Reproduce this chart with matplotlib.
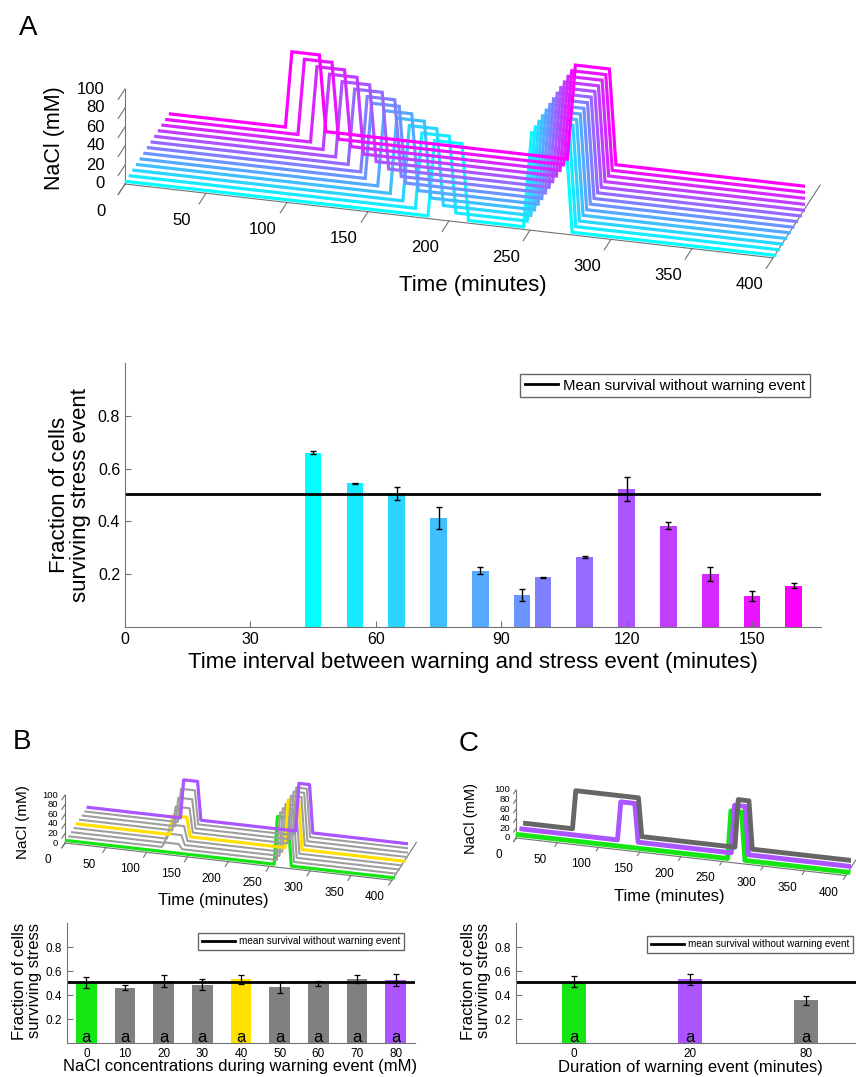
import numpy as np
import matplotlib
matplotlib.use('Agg')
import matplotlib.pyplot as plt
from matplotlib import cm
from matplotlib.lines import Line2D
from mpl_toolkits.mplot3d import proj3d

plt.rcParams['font.family'] = ['Liberation Sans', 'DejaVu Sans']

# ---------------- data ----------------
intervals_A = [45, 55, 65, 75, 85, 95, 100, 110, 120, 130, 140, 150, 160]
survival_A = [0.660, 0.544, 0.507, 0.414, 0.213, 0.121, 0.188, 0.266, 0.523, 0.384, 0.201, 0.117, 0.156]
error_A = [0.005, 0.003, 0.025, 0.042, 0.014, 0.022, 0.003, 0.004, 0.047, 0.013, 0.027, 0.020, 0.010]
mean_no_warning = 0.505

# warning pulse end (top) times for each trace in panel A (minutes)
warn_top_end_A = [207, 197, 187, 177, 167, 157, 152, 142, 132, 122, 112, 102, 92]
warn_top_len_A = 17
ramp = 4
warn_level = 80
stress_A = [245, 250, 271, 275]
stress_level = 100

time_ticks = [0, 50, 100, 150, 200, 250, 300, 350, 400]
nacl_ticks = [0, 20, 40, 60, 80, 100]

conc_B = [0, 10, 20, 30, 40, 50, 60, 70, 80]
survival_B = [0.507, 0.460, 0.520, 0.487, 0.530, 0.465, 0.495, 0.535, 0.527]
error_B = [0.047, 0.020, 0.050, 0.045, 0.040, 0.045, 0.020, 0.035, 0.050]
warn_B = [113, 117, 134, 138]
stress_BC = [254, 258, 271, 275]

dur_C = [0, 20, 80]
survival_C = [0.510, 0.530, 0.355]
error_C = [0.047, 0.048, 0.038]
warn_C = {0: None, 20: [116, 120, 137, 141], 80: [57, 61, 137, 141]}

# ---------------- style ----------------
GREEN = (0.08, 0.90, 0.08)
YELLOW = (1.0, 0.88, 0.0)
PURPLE = cm.cool(8 / 12)
GREY_BAR = (0.50, 0.50, 0.50)
GREY_3D_B = (0.62, 0.62, 0.62)
GREY_3D_C = (0.40, 0.40, 0.40)
AX_GREY = '0.45'
ELEV, AZIM = 24.8, -74.8

W, H = 856, 1077
fig = plt.figure(figsize=(W / 100, H / 100), dpi=100)


def profile(pulses):
    t, z = [0], [0]
    for (a, b, c, d), lev in pulses:
        t += [a, b, c, d]
        z += [0, lev, lev, 0]
    t.append(400)
    z.append(0)
    return np.array(t, float), np.array(z, float)


def style3d(ax, ylim, box, tick_len):
    ax.view_init(elev=ELEV, azim=AZIM)
    ax.set_box_aspect(box)
    ax.set_xlim(0, 400)
    ax.set_ylim(*ylim)
    ax.set_zlim(0, 100)
    ax.set_facecolor((1, 1, 1, 0))
    ax.grid(False)
    for axis in (ax.xaxis, ax.yaxis, ax.zaxis):
        axis.set_pane_color((1, 1, 1, 0))
        axis.pane.set_edgecolor((1, 1, 1, 0))
        axis.line.set_color(AX_GREY)
        axis.line.set_linewidth(0.8)
        # ticks point toward the viewer (front), as in the original figure
        axis._axinfo['tick']['inward_factor'] = tick_len
        axis._axinfo['tick']['outward_factor'] = 0.0
    ax.set_xticks(time_ticks)
    ax.set_yticks([])
    ax.set_zticks(nacl_ticks)
    ax.tick_params(labelsize=8, color=AX_GREY, width=0.8)


def place_zaxis_left(ax):
    best, best_x = None, None
    for pos in ('lower', 'upper', 'default'):
        try:
            ax.zaxis.set_ticks_position(pos)
        except Exception:
            continue
        fig.canvas.draw()
        labs = [l for l in ax.zaxis.get_ticklabels() if l.get_text()]
        if not labs:
            continue
        x = np.mean([l.get_window_extent().x0 for l in labs])
        if best_x is None or x < best_x:
            best, best_x = pos, x
    if best is not None:
        ax.zaxis.set_ticks_position(best)


def disp_point(ax, x, y, z):
    M = ax.get_proj()
    xs, ys, _ = proj3d.proj_transform(np.array([x], float), np.array([y], float), np.array([z], float), M)
    return ax.transData.transform((xs[0], ys[0]))


def fit3d(ax, ylim, P0, P1, P2, P3):
    t0 = np.array([P0[0], H - P0[1]])
    t1 = np.array([P1[0], H - P1[1]])
    t2 = np.array([P2[0], H - P2[1]])
    t3 = np.array([P3[0], H - P3[1]])
    for it in range(4):
        fig.canvas.draw()
        d0 = disp_point(ax, 0, ylim[0], 0)
        d1 = disp_point(ax, 400, ylim[0], 0)
        d2 = disp_point(ax, 0, ylim[0], 100)
        d3 = disp_point(ax, 400, ylim[1], 0)
        if it < 3:
            cur = np.array(ax.get_box_aspect())
            rx = np.linalg.norm(t1 - t0) / np.linalg.norm(d1 - d0)
            rz = np.linalg.norm(t2 - t0) / np.linalg.norm(d2 - d0)
            ry = np.linalg.norm(t3 - t1) / np.linalg.norm(d3 - d1)
            ax.set_box_aspect(tuple(cur * np.array([1.0, ry / rx, rz / rx])))
            fig.canvas.draw()
            d0 = disp_point(ax, 0, ylim[0], 0)
            d1 = disp_point(ax, 400, ylim[0], 0)
        bb = ax.get_position()
        S0 = bb.width * W
        C0 = np.array([(bb.x0 + bb.width / 2) * W, (bb.y0 + bb.height / 2) * H])
        q0 = (d0 - C0) / S0
        S = S0 * np.linalg.norm(t1 - t0) / np.linalg.norm(d1 - d0)
        C = t0 - S * q0
        ax.set_position([(C[0] - S / 2) / W, (C[1] - S / 2) / H, S / W, S / H])


def label3d(ax, ylim, xoff, zoff, fs_x, fs_z):
    """Tick labels placed next to the projected tick positions (offsets in pixels, y down)."""
    fig.canvas.draw()
    for v in time_ticks:
        p = disp_point(ax, v, ylim[0], 0)
        fig.text((p[0] + xoff[0]) / W, (p[1] - xoff[1]) / H, str(v), ha='center', va='center', fontsize=fs_x)
    for v in nacl_ticks:
        p = disp_point(ax, 0, ylim[0], v)
        fig.text((p[0] + zoff[0]) / W, (p[1] - zoff[1]) / H, str(v), ha='right', va='center', fontsize=fs_z)
    ax.set_xticklabels([''] * len(time_ticks))
    ax.set_zticklabels([''] * len(nacl_ticks))


# ================= Panel A 3D =================
ylimA = (-0.45, 12.5)
ax3a = fig.add_axes([0.1, 0.7, 0.8, 0.3], projection='3d', proj_type='ortho')
style3d(ax3a, ylimA, (671, 180, 105), 1.8)
nA = len(intervals_A)
for k in range(nA):
    te = warn_top_end_A[k]
    tw = [te - warn_top_len_A - ramp, te - warn_top_len_A, te, te + ramp]
    t, z = profile([(tw, warn_level), (stress_A, stress_level)])
    ax3a.plot(t, np.full_like(t, k), z, color=cm.cool(k / (nA - 1)), lw=2.3, solid_joinstyle='miter')

# ================= Panel B 3D =================
ylimB = (-0.6, 8.5)
ax3b = fig.add_axes([0.05, 0.15, 0.45, 0.2], projection='3d', proj_type='ortho')
style3d(ax3b, ylimB, (339, 84, 52), 1.6)
colors_B = [GREEN] + [GREY_3D_B] * 3 + [YELLOW] + [GREY_3D_B] * 3 + [PURPLE]
for k, c in enumerate(conc_B):
    pulses = [(warn_B, c)] if c > 0 else []
    pulses.append((stress_BC, stress_level))
    t, z = profile(pulses)
    lw = 2.3 if k in (0, 4, 8) else 1.5
    ax3b.plot(t, np.full_like(t, k), z, color=colors_B[k], lw=lw)

# ================= Panel C 3D =================
ylimC = (-0.6, 2.5)
ax3c = fig.add_axes([0.55, 0.15, 0.45, 0.2], projection='3d', proj_type='ortho')
style3d(ax3c, ylimC, (340, 42, 53), 2.6)
colors_C = [GREEN, PURPLE, GREY_3D_C]
for k, d in enumerate(dur_C):
    pulses = [(warn_C[d], warn_level)] if warn_C[d] is not None else []
    pulses.append((stress_BC, stress_level))
    t, z = profile(pulses)
    ax3c.plot(t, np.full_like(t, k), z, color=colors_C[k], lw=3.5)

# ================= Bar chart helpers =================
def style_bar_axes(ax, fs):
    for s in ('top', 'right'):
        ax.spines[s].set_visible(False)
    for s in ('left', 'bottom'):
        ax.spines[s].set_color(AX_GREY)
        ax.spines[s].set_linewidth(0.8)
    ax.tick_params(direction='in', length=4, width=0.8, color=AX_GREY, labelsize=fs)
    ax.set_ylim(0, 1)
    ax.set_yticks([0.2, 0.4, 0.6, 0.8])
    ax.set_yticklabels(['0.2', '0.4', '0.6', '0.8'])
    ax.patch.set_alpha(0)


# ================= Panel A bars =================
axA = fig.add_axes([125 / W, 1 - 627 / H, 696 / W, 264 / H])
style_bar_axes(axA, 11.5)
axA.set_xlim(0, 166.5)
axA.set_xticks([0, 30, 60, 90, 120, 150])
axA.bar(intervals_A, survival_A, width=4, color=[cm.cool(k / (nA - 1)) for k in range(nA)])
axA.errorbar(intervals_A, survival_A, yerr=error_A, fmt='none', ecolor='k', elinewidth=1, capsize=2.5, capthick=1)
axA.axhline(mean_no_warning, color='k', lw=2)
axA.legend([Line2D([], [], color='k', lw=2)], ['Mean survival without warning event'],
           loc='upper right', bbox_to_anchor=(0.984, 0.958), borderaxespad=0, fancybox=False,
           edgecolor='0.4', fontsize=10.8, handlelength=2.2, handletextpad=0.35, borderpad=0.3,
           framealpha=1)
axA.set_xlabel('Time interval between warning and stress event (minutes)', fontsize=16)
axA.xaxis.set_label_coords(0.5, -0.133)
axA.xaxis.label.set_va('center')
axA.set_ylabel('Fraction of cells\nsurviving stress event', fontsize=16, linespacing=1.05)
axA.yaxis.set_label_coords(-0.079, 0.5)
axA.yaxis.label.set_va('center')

# ================= Panel B bars =================
axB = fig.add_axes([67 / W, 1 - 1043 / H, 348 / W, 120 / H])
style_bar_axes(axB, 8.5)
xB = np.arange(1, len(conc_B) + 1)
axB.set_xlim(0.5, len(conc_B) + 0.5)
axB.set_xticks(xB)
axB.set_xticklabels([str(c) for c in conc_B])
colors_Bbar = [GREEN] + [GREY_BAR] * 3 + [YELLOW] + [GREY_BAR] * 3 + [PURPLE]
axB.bar(xB, survival_B, width=0.53, color=colors_Bbar)
axB.errorbar(xB, survival_B, yerr=error_B, fmt='none', ecolor='k', elinewidth=0.9, capsize=2, capthick=0.9)
axB.axhline(mean_no_warning, color='k', lw=2)
for x in xB:
    axB.text(x, 0.012, 'a', ha='center', va='baseline', fontsize=12)
axB.legend([Line2D([], [], color='k', lw=2)], ['mean survival without warning event'],
           loc='upper right', bbox_to_anchor=(0.968, 0.917), borderaxespad=0, fancybox=False,
           edgecolor='0.4', fontsize=7.2, handlelength=3.3, handletextpad=0.4, borderpad=0.35,
           framealpha=1)
axB.set_xlabel('NaCl concentrations during warning event (mM)', fontsize=12)
axB.xaxis.set_label_coords(0.497, -0.2)
axB.xaxis.label.set_va('center')
axB.set_ylabel('Fraction of cells\nsurviving stress', fontsize=12, linespacing=1.05)
axB.yaxis.set_label_coords(-0.115, 0.517)
axB.yaxis.label.set_va('center')

# ================= Panel C bars =================
axC = fig.add_axes([516 / W, 1 - 1043 / H, 348 / W, 120 / H])
style_bar_axes(axC, 8.5)
xC = np.arange(1, len(dur_C) + 1)
axC.set_xlim(0.5, len(dur_C) + 0.5)
axC.set_xticks(xC)
axC.set_xticklabels([str(d) for d in dur_C])
axC.bar(xC, survival_C, width=0.2, color=[GREEN, PURPLE, GREY_BAR])
axC.errorbar(xC, survival_C, yerr=error_C, fmt='none', ecolor='k', elinewidth=0.9, capsize=2, capthick=0.9)
axC.axhline(mean_no_warning, color='k', lw=2)
for x in xC:
    axC.text(x, 0.012, 'a', ha='center', va='baseline', fontsize=12)
axC.legend([Line2D([], [], color='k', lw=2)], ['mean survival without warning event'],
           loc='upper right', bbox_to_anchor=(0.968, 0.892), borderaxespad=0, fancybox=False,
           edgecolor='0.4', fontsize=7.2, handlelength=3.3, handletextpad=0.4, borderpad=0.35,
           framealpha=1)
axC.set_xlabel('Duration of warning event (minutes)', fontsize=12)
axC.xaxis.set_label_coords(0.5, -0.208)
axC.xaxis.label.set_va('center')
axC.set_ylabel('Fraction of cells\nsurviving stress', fontsize=12, linespacing=1.05)
axC.yaxis.set_label_coords(-0.115, 0.517)
axC.yaxis.label.set_va('center')

# ================= fit 3D boxes to layout =================
for ax3 in (ax3a, ax3b, ax3c):
    place_zaxis_left(ax3)
fit3d(ax3a, ylimA, (125, 184), (773, 258), (125, 89), (820, 185))
fit3d(ax3b, ylimB, (65, 843), (392, 879), (65, 795), (416, 841))
fit3d(ax3c, ylimC, (516, 838), (846, 874), (516, 790), (858, 857))

label3d(ax3a, ylimA, (-24, 27), (-20, 0), 12, 12)
label3d(ax3b, ylimB, (-17, 17), (-7, 0), 8.5, 6.8)
label3d(ax3c, ylimC, (-17, 17), (-6, 0), 8.5, 6.8)

# ================= free texts =================
def ftext(x, y, s, **kw):
    fig.text(x / W, 1 - y / H, s, ha='center', va='center', **kw)

ftext(28, 28, 'A', fontsize=20)
ftext(22, 742, 'B', fontsize=20)
ftext(469, 744, 'C', fontsize=20)
ftext(55, 138, 'NaCl (mM)', fontsize=15.5, rotation=90)
ftext(473, 285, 'Time (minutes)', fontsize=16)
ftext(23, 822, 'NaCl (mM)', fontsize=11, rotation=90)
ftext(213, 901, 'Time (minutes)', fontsize=12)
ftext(471, 818, 'NaCl (mM)', fontsize=10.5, rotation=90)
ftext(669, 897, 'Time (minutes)', fontsize=12)

fig.savefig('out.png', dpi=100)
